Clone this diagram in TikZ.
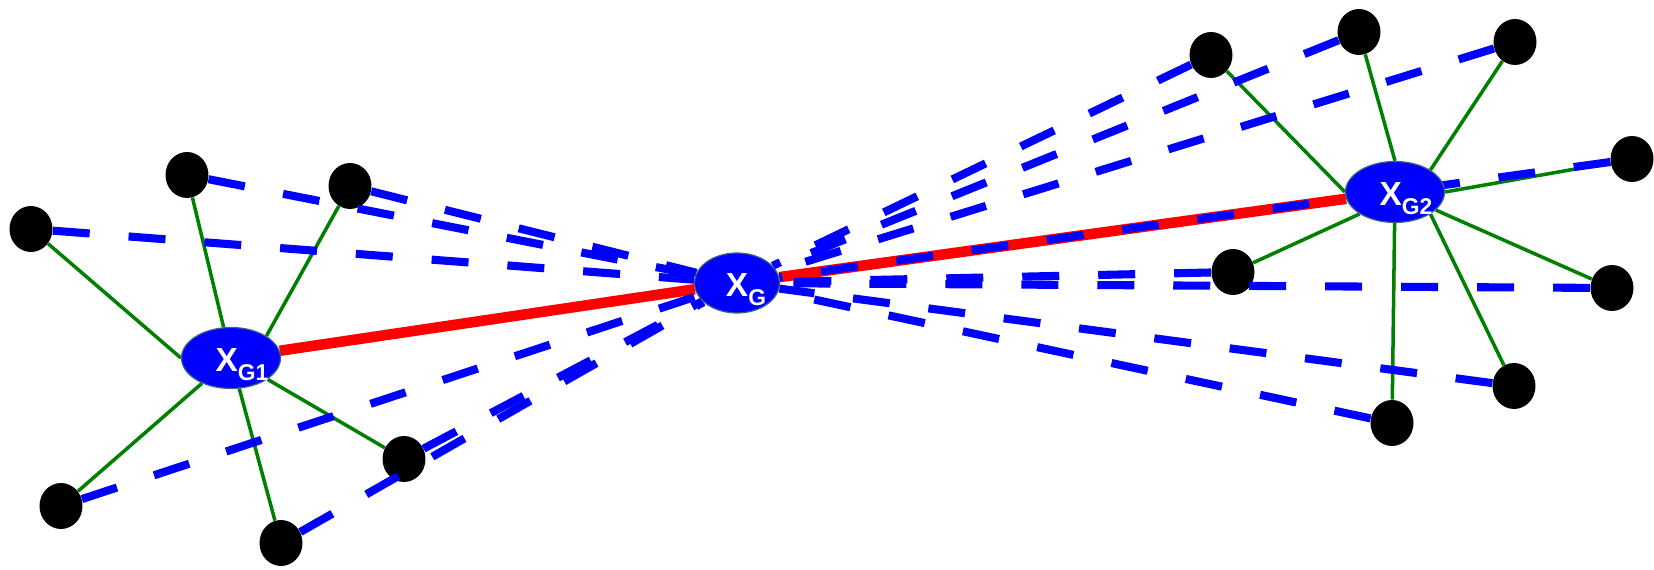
\documentclass[tikz,border=0pt]{standalone}
\usepackage{fontspec}
\setmainfont{Liberation Sans}
\usetikzlibrary{shapes.geometric}
\definecolor{hubblue}{RGB}{0,0,255}
\definecolor{rim}{RGB}{60,100,130}
\definecolor{leaf}{RGB}{0,128,0}
\definecolor{link}{RGB}{255,0,0}
\pgfdeclarelayer{back}
\pgfdeclarelayer{front}
\pgfsetlayers{back,main,front}
\newcommand{\hubsub}[1]{\raisebox{-5pt}{\fontsize{13}{13}\selectfont #1}}

\begin{document}
\begin{tikzpicture}[x=0.02cm,y=-0.02cm,hub/.style={ellipse,fill=hubblue,draw=rim,line width=0.7pt,inner sep=0pt,minimum width=1.98cm,minimum height=1.22cm},lab/.style={text=white,font=\fontsize{19}{19}\selectfont\bfseries,inner sep=0pt,anchor=base,xshift=0.22cm,yshift=-0.14cm},dot/.style={ellipse,fill=black,inner sep=0pt,minimum width=0.86cm,minimum height=0.92cm},spoke/.style={draw=leaf,line width=2pt},bond/.style={draw=link,line width=6pt},ray/.style={draw=hubblue,line width=4.6pt,dash pattern=on 0.74cm off 0.78cm}]
\useasboundingbox (0,0) rectangle (1654,570);
\begin{pgfonlayer}{front}
\node[hub,label={[lab]center:X\hubsub{G1}}] (xg1) at (231,358) {};
\node[hub,minimum width=1.7cm,minimum height=1.2cm,label={[lab,xshift=-0.04cm]center:X\hubsub{G}}] (xg) at (737,283) {};
\node[hub,label={[lab]center:X\hubsub{G2}}] (xg2) at (1395,192) {};
\end{pgfonlayer}
\node[dot] (a1) at (31,229) {};
\node[dot] (a2) at (187,175) {};
\node[dot] (a3) at (350,186) {};
\node[dot] (a4) at (61,506) {};
\node[dot] (a5) at (281,543) {};
\node[dot] (a6) at (404,459) {};
\node[dot] (b1) at (1211,55) {};
\node[dot] (b2) at (1359,32) {};
\node[dot] (b3) at (1515,42) {};
\node[dot] (b4) at (1632,159) {};
\node[dot] (b5) at (1233,272) {};
\node[dot] (b6) at (1612,288) {};
\node[dot] (b7) at (1514,386) {};
\node[dot] (b8) at (1392,423) {};
\begin{pgfonlayer}{back}
\draw[bond] (xg1) -- (xg);
\draw[bond] (xg) -- (xg2);
\draw[spoke] (xg1.west) -- (a1);
\draw[spoke] (xg1) -- (a2);
\draw[spoke] (xg1.north east) -- (a3);
\draw[spoke] (xg1) -- (a4);
\draw[spoke] (xg1) -- (a5);
\draw[spoke] (xg1) -- (a6);
\draw[spoke] (xg2.west) -- (b1);
\draw[spoke] (xg2.north) -- (b2);
\draw[spoke] (xg2.north east) -- (b3);
\draw[spoke] (xg2.east) -- (b4);
\draw[spoke] (xg2.south west) -- (b5);
\draw[spoke] (xg2) -- (b6);
\draw[spoke] (xg2.south east) -- (b7);
\draw[spoke] (xg2) -- (b8);
\end{pgfonlayer}
\draw[ray] (a1) -- (xg);
\draw[ray] (a2) -- (xg);
\draw[ray] (a3) -- (xg);
\draw[ray] (a4) -- (xg);
\draw[ray] (a5) -- (xg);
\draw[ray] (a6) -- (xg);
\draw[ray] (b1) -- (xg);
\draw[ray] (b2) -- (xg);
\draw[ray] (b3) -- (xg);
\draw[ray] (b4) -- (xg);
\draw[ray] (b5) -- (xg);
\draw[ray] (b6) -- (xg);
\draw[ray] (b7) -- (xg);
\draw[ray] (b8) -- (xg);
\end{tikzpicture}
\end{document}
